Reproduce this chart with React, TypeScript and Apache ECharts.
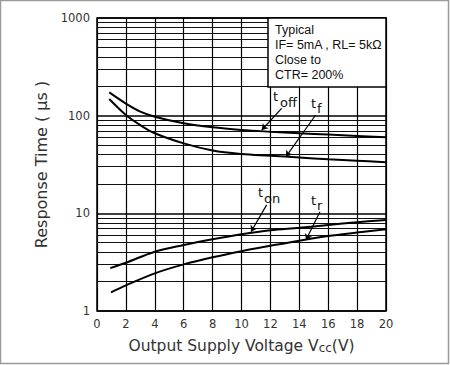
import React, { useEffect, useRef } from "react";
import * as echarts from "echarts";

// ---- data ----
const toffX = [0.85, 2, 3, 4, 6, 8, 10, 12, 14, 16, 18, 20];
const toffY = [173, 133, 110, 97.6, 83.5, 76, 71.5, 68.5, 66, 64, 62, 60];
const tfX = [0.85, 2, 3, 4, 6, 8, 10, 12, 14, 16, 18, 20];
const tfY = [148, 101.6, 80, 66, 52, 44, 40.5, 38.9, 37.3, 35.8, 34.6, 33.3];
const tonX = [0.92, 2, 4, 6, 8, 10, 12, 14, 16, 18, 20];
const tonY = [2.75, 3.12, 4.05, 4.74, 5.42, 6.1, 6.7, 7.1, 7.6, 8.1, 8.55];
const trX = [0.97, 2, 4, 6, 8, 10, 12, 14, 16, 18, 20];
const trY = [1.55, 1.83, 2.43, 3.0, 3.55, 4.1, 4.65, 5.25, 5.85, 6.35, 6.86];

const minorGrid = [2, 3, 4, 5, 6, 7, 8, 9, 20, 30, 40, 50, 60, 70, 80, 90, 200, 300, 400, 500, 600, 700, 800, 900];

// leader lines: [label end, curve end]
const toffLeader = [[12.78, 119], [11.4, 71.3]];
const tfLeader = [[15.13, 101.6], [13.08, 38]];
const tonLeader = [[11.74, 12.2], [10.66, 6.48]];
const trLeader = [[15.43, 10.4], [14.46, 5.33]];

const noteLines = ["Typical", "IF= 5mA , RL= 5kΩ", "Close to", "CTR= 200%"];

const zip = (xs: number[], ys: number[]) => xs.map((x, i) => [x, ys[i]]);

const FONT = "DejaVu Sans";

function curve(name: string, xs: number[], ys: number[]) {
  return {
    name,
    type: "line",
    data: zip(xs, ys),
    smooth: 0.35,
    symbol: "none",
    lineStyle: { color: "#000", width: 2 },
    z: 5,
  };
}

function leader(pts: number[][]) {
  return [{ coord: pts[0] }, { coord: pts[1] }];
}

export default function App() {
  const ref = useRef<HTMLDivElement>(null);
  useEffect(() => {
    if (!ref.current) return;
    const chart = echarts.init(ref.current, null, { renderer: "svg" });
    const gridL = 97, gridT = 18, gridW = 289, gridH = 293;
    const txt = (x: number, y: number, text: string, size: number, family: string = FONT) => ({
      type: "text",
      x,
      y,
      z: 120,
      style: { text, fill: "#111", font: `${size}px "${family}"` },
    });
    chart.setOption({
      animation: false,
      backgroundColor: "#fff",
      grid: {
        left: gridL,
        top: gridT,
        width: gridW,
        height: gridH,
        show: true,
        borderColor: "#000",
        borderWidth: 1.5,
        backgroundColor: "transparent",
      },
      xAxis: {
        type: "value",
        min: 0,
        max: 20,
        interval: 2,
        name: "Output Supply Voltage V{s|cc}(V)",
        nameLocation: "middle",
        nameGap: 27,
        nameTextStyle: {
          color: "#333",
          fontFamily: FONT,
          fontSize: 15.5,
          rich: { s: { fontSize: 12, color: "#333", fontFamily: FONT, padding: [3, 0, 0, 0] } },
        },
        axisLine: { show: false },
        axisTick: { show: false },
        axisLabel: { color: "#333", fontFamily: FONT, fontSize: 11.5, margin: 7 },
        splitLine: { show: true, lineStyle: { color: "#000", width: 1.2 } },
      },
      yAxis: {
        type: "log",
        logBase: 10,
        min: 1,
        max: 1000,
        name: "Response Time ( μs )",
        nameLocation: "middle",
        nameGap: 48,
        nameTextStyle: { color: "#333", fontFamily: FONT, fontSize: 16 },
        axisLine: { show: false },
        axisTick: { show: false },
        axisLabel: {
          color: "#333",
          fontFamily: FONT,
          fontSize: 11.5,
          margin: 7,
          formatter: (v: number) => String(v),
        },
        splitLine: { show: true, lineStyle: { color: "#000", width: 1.5 } },
      },
      series: [
        {
          name: "grid",
          type: "line",
          data: [],
          silent: true,
          markLine: {
            silent: true,
            symbol: "none",
            label: { show: false },
            lineStyle: { color: "#111", width: 1, type: "solid" },
            data: minorGrid.map((v) => ({ yAxis: v })),
          },
          z: 1,
        },
        curve("toff", toffX, toffY),
        curve("tf", tfX, tfY),
        curve("ton", tonX, tonY),
        curve("tr", trX, trY),
        {
          name: "leaders",
          type: "line",
          data: [],
          silent: true,
          markLine: {
            silent: true,
            symbol: ["none", "arrow"],
            symbolSize: 6,
            label: { show: false },
            lineStyle: { color: "#000", width: 1.2, type: "solid" },
            data: [leader(toffLeader), leader(tfLeader), leader(tonLeader), leader(trLeader)],
          },
          z: 6,
        },
      ],
      graphic: [
        {
          type: "rect",
          z: 100,
          shape: { x: 268, y: gridT, width: gridL + gridW - 268, height: 87 - gridT },
          style: { fill: "#fff", stroke: "#000", lineWidth: 1.5 },
        },
        ...noteLines.map((t, i) => txt(275, 23 + i * 15, t, 12.5, "Liberation Sans")),
        txt(273, 90, "t", 13),
        txt(280, 96, "off", 13),
        txt(311, 97, "t", 13),
        txt(317, 102, "f", 13),
        txt(258, 186, "t", 13),
        txt(264, 192, "on", 13),
        txt(311, 194, "t", 13),
        txt(317, 199, "r", 13),
        {
          type: "rect",
          z: 130,
          shape: { x: 0.5, y: 0.5, width: 448, height: 363 },
          style: { fill: "none", stroke: "#9a9a9a", lineWidth: 1.5 },
        },
      ],
    });
    return () => chart.dispose();
  }, []);
  return (
    <div
      ref={ref}
      style={{ position: "absolute", left: 0, top: 0, width: 450, height: 365 }}
    />
  );
}
